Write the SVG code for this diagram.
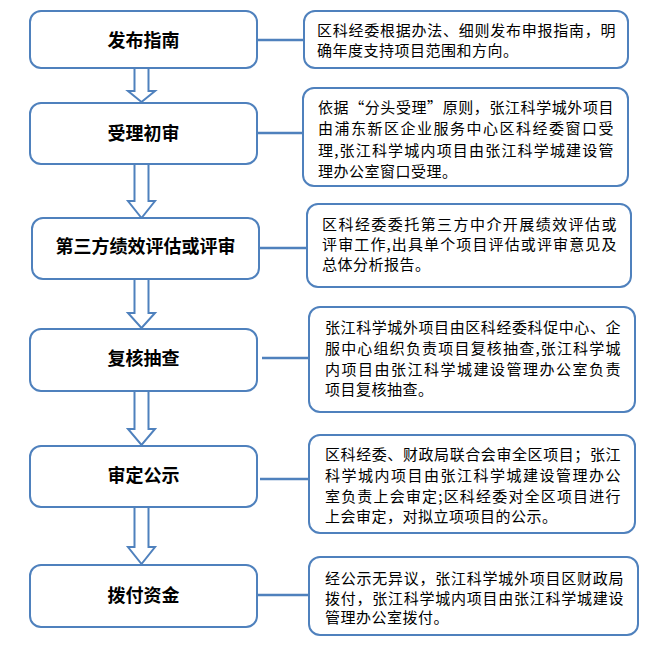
<svg xmlns="http://www.w3.org/2000/svg" width="667" height="655" viewBox="0 0 667 655">
<style>
.box{fill:#fff;stroke:#4f81bd;stroke-width:2}
.arr{fill:#fff;stroke:#4f81bd;stroke-width:2;stroke-linejoin:miter}
.conn{stroke:#4f81bd;stroke-width:2.5;fill:none}
.lbl{font-family:"Noto Sans CJK SC","Noto Sans",sans-serif;font-size:18px;font-weight:bold;fill:#000;text-anchor:middle}
.desc{font-family:"Noto Sans CJK SC","Noto Sans",sans-serif;font-size:15px;fill:#000;letter-spacing:0.5px}
</style>
<rect width="667" height="655" fill="#fff"/>
<g id="connectors">
<line class="conn" x1="257" y1="40" x2="304" y2="40"/>
<line class="conn" x1="257" y1="133" x2="303" y2="133"/>
<line class="conn" x1="259" y1="248" x2="307" y2="248"/>
<line class="conn" x1="262" y1="358" x2="309" y2="358"/>
<line class="conn" x1="260" y1="479" x2="309" y2="479"/>
<line class="conn" x1="258" y1="595" x2="309" y2="595"/>
<path class="arr" d="M134.5,68 V91 H128 L141.5,102 L155,91 H148.5 V68"/>
<path class="arr" d="M134.5,164 V201 H128 L141.5,218 L155,201 H148.5 V164"/>
<path class="arr" d="M134.5,279 V313 H128 L141.5,328 L155,313 H148.5 V279"/>
<path class="arr" d="M134.5,391 V429 H128 L141.5,445 L155,429 H148.5 V391"/>
<path class="arr" d="M134.5,507 V547 H128 L141.5,564 L155,547 H148.5 V507"/>
</g>
<g id="n1"><rect class="box" x="30" y="11" width="227" height="57" rx="11"/><text class="lbl" x="143.5" y="47">发布指南</text></g>
<g id="n2"><rect class="box" x="30" y="103" width="227" height="61" rx="11"/><text class="lbl" x="143.5" y="140">受理初审</text></g>
<g id="n3"><rect class="box" x="32" y="218" width="227" height="61" rx="11"/><text class="lbl" x="145.5" y="253">第三方绩效评估或评审</text></g>
<g id="n4"><rect class="box" x="30" y="329" width="227" height="62" rx="11"/><text class="lbl" x="143.5" y="365">复核抽查</text></g>
<g id="n5"><rect class="box" x="30" y="446" width="227" height="61" rx="11"/><text class="lbl" x="143.5" y="482">审定公示</text></g>
<g id="n6"><rect class="box" x="30" y="565" width="227" height="62" rx="11"/><text class="lbl" x="143.5" y="602">拨付资金</text></g>
<g id="d1"><rect class="box" x="304" y="11" width="324" height="57" rx="11"/>
<text class="desc" x="317" y="36" textLength="299" lengthAdjust="spacing">区科经委根据办法、细则发布申报指南，明</text>
<text class="desc" x="317" y="56">确年度支持项目范围和方向。</text></g>
<g id="d2"><rect class="box" x="303" y="88" width="325" height="98" rx="11"/>
<text class="desc" x="318" y="113" textLength="296" lengthAdjust="spacing">依据“分头受理”原则，张江科学城外项目</text>
<text class="desc" x="318" y="134" textLength="296" lengthAdjust="spacing">由浦东新区企业服务中心区科经委窗口受</text>
<text class="desc" x="318" y="156" textLength="296" lengthAdjust="spacing">理,张江科学城内项目由张江科学城建设管</text>
<text class="desc" x="318" y="177">理办公室窗口受理。</text></g>
<g id="d3"><rect class="box" x="307" y="204" width="324" height="83" rx="11"/>
<text class="desc" x="322" y="230" textLength="295" lengthAdjust="spacing">区科经委委托第三方中介开展绩效评估或</text>
<text class="desc" x="322" y="250" textLength="295" lengthAdjust="spacing">评审工作,出具单个项目评估或评审意见及</text>
<text class="desc" x="322" y="270">总体分析报告。</text></g>
<g id="d4"><rect class="box" x="309" y="307" width="326" height="105" rx="11"/>
<text class="desc" x="325" y="333" textLength="296" lengthAdjust="spacing">张江科学城外项目由区科经委科促中心、企</text>
<text class="desc" x="325" y="354" textLength="296" lengthAdjust="spacing">服中心组织负责项目复核抽查,张江科学城</text>
<text class="desc" x="325" y="375" textLength="296" lengthAdjust="spacing">内项目由张江科学城建设管理办公室负责</text>
<text class="desc" x="325" y="395">项目复核抽查。</text></g>
<g id="d5"><rect class="box" x="309" y="435" width="326" height="98" rx="11"/>
<text class="desc" x="325" y="460" textLength="296" lengthAdjust="spacing">区科经委、财政局联合会审全区项目；张江</text>
<text class="desc" x="325" y="481" textLength="296" lengthAdjust="spacing">科学城内项目由张江科学城建设管理办公</text>
<text class="desc" x="325" y="502" textLength="296" lengthAdjust="spacing">室负责上会审定;区科经委对全区项目进行</text>
<text class="desc" x="325" y="522">上会审定，对拟立项项目的公示。</text></g>
<g id="d6"><rect class="box" x="309" y="557" width="329" height="78" rx="11"/>
<text class="desc" x="325" y="584" textLength="299" lengthAdjust="spacing">经公示无异议，张江科学城外项目区财政局</text>
<text class="desc" x="325" y="604" textLength="299" lengthAdjust="spacing">拨付，张江科学城内项目由张江科学城建设</text>
<text class="desc" x="325" y="623">管理办公室拨付。</text></g>
</svg>
